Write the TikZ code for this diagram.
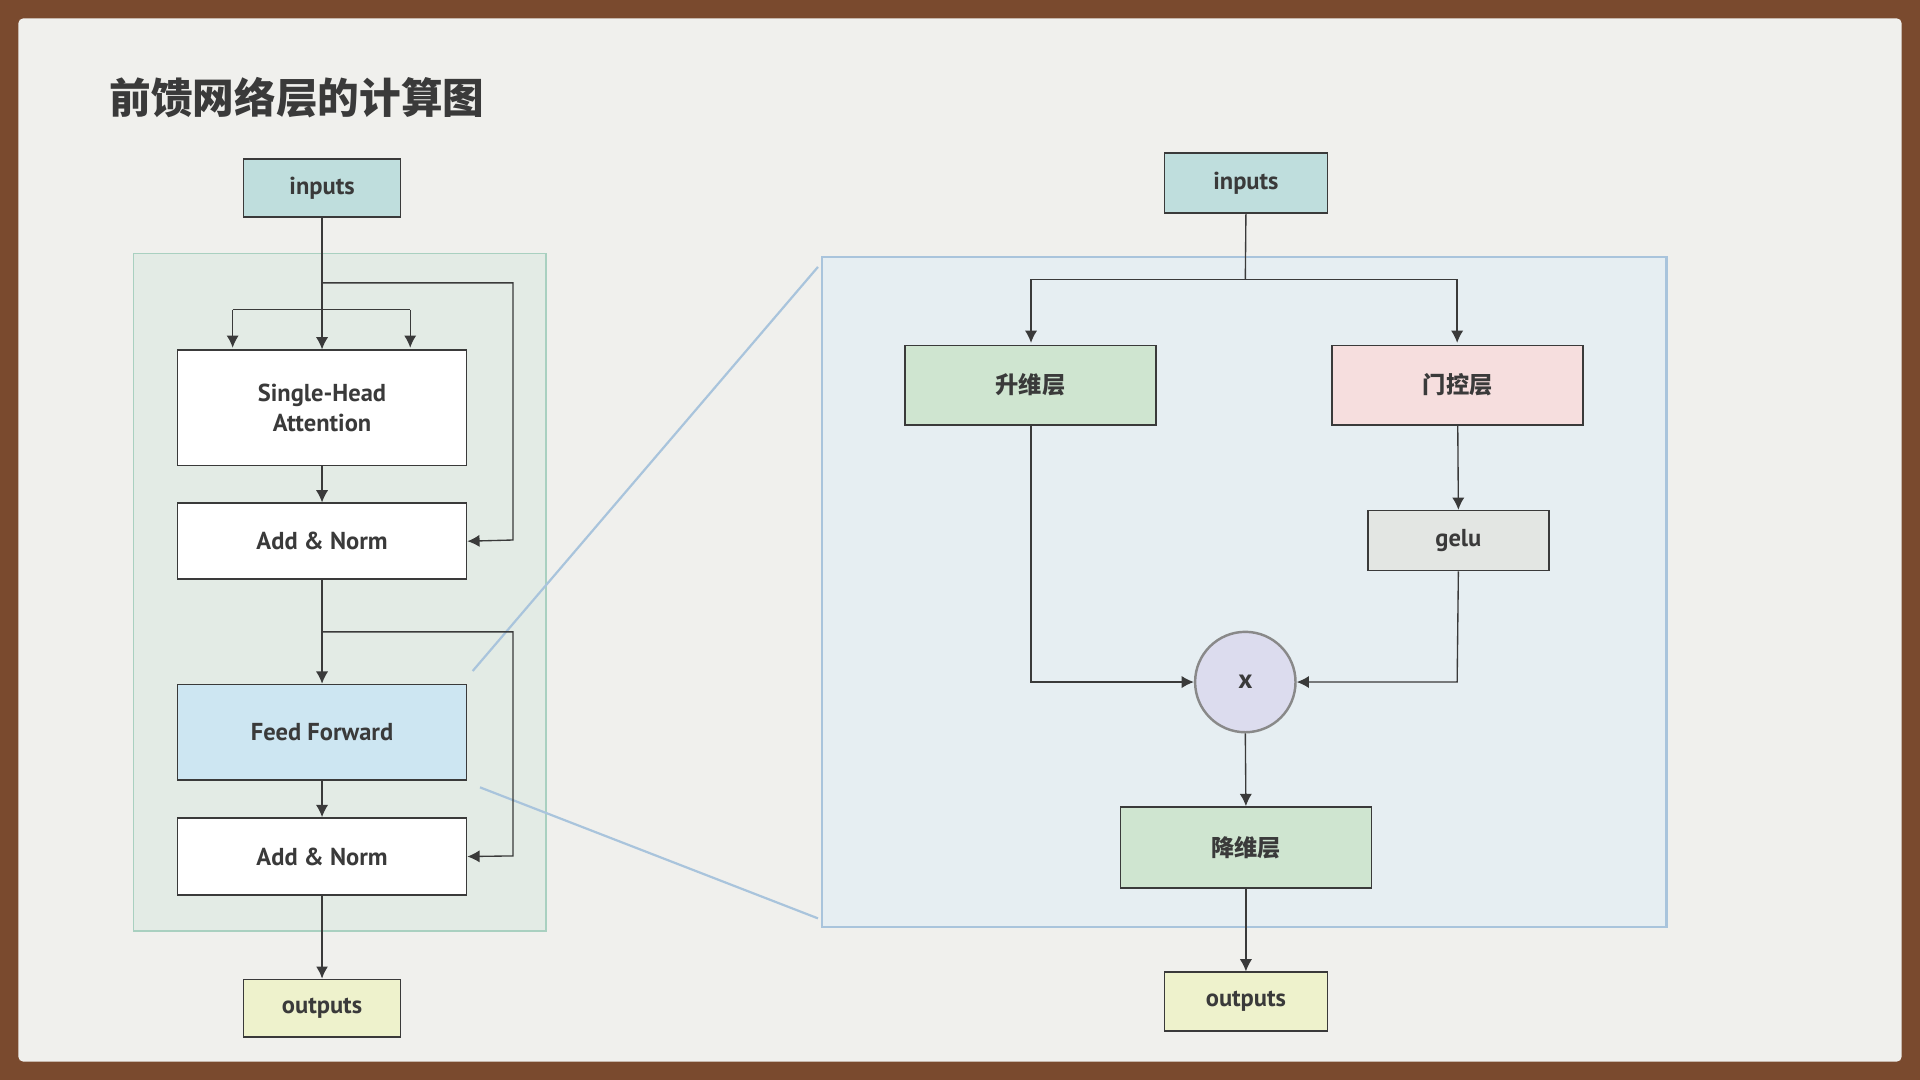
\documentclass[tikz,border=0pt]{standalone}
\usepackage{fontspec}
\setmainfont{PT Sans}
\newfontfamily\cjk{Noto Sans CJK SC}
\usetikzlibrary{arrows.meta}
\definecolor{paper}{HTML}{F0F0ED}
\definecolor{frame}{HTML}{7A4A2E}
\definecolor{ink}{HTML}{3A3A3A}
\definecolor{teal}{HTML}{BFDEDD}
\definecolor{gfill}{HTML}{E3EBE5}
\definecolor{gline}{HTML}{A9D0C0}
\definecolor{ffill}{HTML}{CDE6F2}
\definecolor{ofill}{HTML}{EEF2CC}
\definecolor{bline}{HTML}{A9C4DC}
\definecolor{bfill}{HTML}{E6EEF2}
\definecolor{upfill}{HTML}{CFE5D0}
\definecolor{gatefill}{HTML}{F6DEDE}
\definecolor{gelufill}{HTML}{E3E6E3}
\definecolor{xfill}{HTML}{DCDCEE}
\begin{document}
\begin{tikzpicture}[x=1pt,y=-1pt,
  box/.style={draw=ink,line width=1.3pt,rectangle,inner sep=0pt,font=\bfseries\fontsize{20}{25}\selectfont,text=ink,align=center},
  arr/.style={draw=ink,line width=1.1pt,-{Latex[length=10pt,width=10pt]}},
  ln/.style={draw=ink,line width=1.1pt}]
\fill[frame] (0,0) rectangle (1568,882);
\fill[paper,rounded corners=4pt] (15,15) rectangle (1553,867);
\useasboundingbox (0,0) rectangle (1568,882);
\node[anchor=west,text=ink,font=\cjk\bfseries\fontsize{34}{38}\selectfont] (title) at (86,80) {前馈网络层的计算图};
% left container
\draw[gline,fill=gfill,line width=1.5pt] (109,207) rectangle (446,760);
% zoom lines
\draw[bline,line width=1.8pt] (386,548) -- (668,218);
\draw[bline,line width=1.8pt] (392,643) -- (668,750);
% left nodes
\node[box,fill=teal,minimum width=128pt,minimum height=47pt] (in1) at (263,153.5) {inputs};
\node[box,fill=white,minimum width=236pt,minimum height=94pt] (att) at (263,333) {Single-Head\\Attention};
\node[box,fill=white,minimum width=236pt,minimum height=62pt] (an1) at (263,442) {Add \& Norm};
\node[box,fill=ffill,minimum width=236pt,minimum height=78pt] (ff) at (263,598) {Feed Forward};
\node[box,fill=white,minimum width=236pt,minimum height=63pt] (an2) at (263,699.5) {Add \& Norm};
\node[box,fill=ofill,minimum width=128pt,minimum height=47pt] (out1) at (263,823.5) {outputs};
\coordinate (s1) at (263,253);
\draw[ln] (in1.south) -- (s1);
\draw[ln] (190,253) -- (335,253);
\draw[arr] (190,253) -- (190,284);
\draw[arr] (s1) -- (att.north);
\draw[arr] (335,253) -- (335,284);
\draw[arr] (263,231) -- (419,231) -- (419,441) -- (an1.east);
\draw[arr] (att.south) -- (an1.north);
\draw[arr] (an1.south) -- (ff.north);
\draw[arr] (263,516) -- (419,516) -- (419,699) -- (an2.east);
\draw[arr] (ff.south) -- (an2.north);
\draw[arr,line width=2pt] (an2.south) -- (out1.north);
% right container
\draw[bline,fill=bfill,line width=1.8pt] (671,210) rectangle (1361,757);
\node[box,fill=teal,minimum width=133pt,minimum height=49pt] (in2) at (1017.5,149.5) {inputs};
\node[box,fill=upfill,minimum width=205pt,minimum height=65pt,font=\cjk\bfseries\fontsize{19}{22}\selectfont] (up) at (841.5,314.5) {升维层};
\node[box,fill=gatefill,minimum width=205pt,minimum height=65pt,font=\cjk\bfseries\fontsize{19}{22}\selectfont] (gate) at (1190.5,314.5) {门控层};
\node[box,fill=gelufill,minimum width=148pt,minimum height=49pt] (gelu) at (1191,441.5) {gelu};
\node[circle,draw=ink!60,line width=2pt,fill=xfill,minimum size=82pt,inner sep=0pt,text=ink,font=\bfseries\fontsize{22}{24}\selectfont] (x) at (1017,557) {x};
\node[box,fill=upfill,minimum width=205pt,minimum height=66pt,font=\cjk\bfseries\fontsize{19}{22}\selectfont] (down) at (1017.5,692) {降维层};
\node[box,fill=ofill,minimum width=133pt,minimum height=48pt] (out2) at (1017.5,818) {outputs};
\draw[ln] (in2.south) -- (1017,228);
\draw[arr] (1017,228) -- (842,228) -- (842,280);
\draw[arr] (1017,228) -- (1190,228) -- (1190,280);
\draw[arr] (gate.south) -- (gelu.north);
\draw[arr] (842,347) -- (842,557) -- (x.west);
\draw[arr] (gelu.south) -- (1190,557) -- (x.east);
\draw[arr] (x.south) -- (down.north);
\draw[arr] (down.south) -- (out2.north);
\end{tikzpicture}
\end{document}
